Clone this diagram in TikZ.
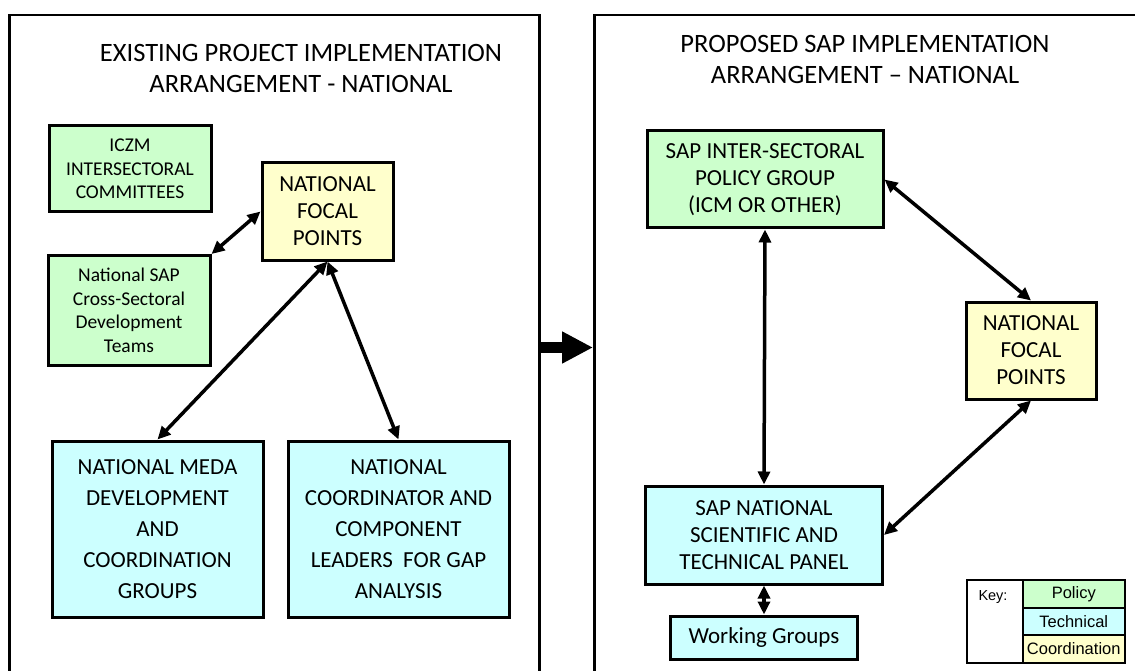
\documentclass[tikz,border=0pt]{standalone}
\usepackage{fontspec}
\setmainfont{Carlito}
\newfontfamily\keyfont{Liberation Sans}
\usetikzlibrary{arrows.meta}
\definecolor{policy}{HTML}{CCFFCC}
\definecolor{techc}{HTML}{CCFFFF}
\definecolor{coordc}{HTML}{FFFFCC}
\begin{document}
\begin{tikzpicture}[x=1pt,y=-1pt,
  panel/.style={draw=black, line width=2.5pt, inner sep=0pt, anchor=north west},
  box/.style={draw=black, line width=3pt, inner sep=0pt, align=center, font=\fontsize{23}{27}\selectfont},
  smallbox/.style={box, font=\fontsize{19.5}{23.5}\selectfont},
  tallbox/.style={box, font=\fontsize{23}{31}\selectfont},
  pol/.style={fill=policy}, tec/.style={fill=techc}, coo/.style={fill=coordc},
  titletext/.style={align=center, inner sep=0pt, font=\fontsize{26.5}{31}\selectfont},
  link/.style={line width=3.5pt, {Triangle[length=13pt,width=12pt]}-{Triangle[length=13pt,width=12pt]}},
  bigarrow/.style={line width=11pt, -{Triangle[length=31pt,width=30pt]}},
  keycell/.style={draw=black, line width=1.5pt, inner sep=0pt, anchor=north west, font=\keyfont\fontsize{16.5}{18}\selectfont}
]
\clip (0,0) rectangle (1135,671);
\fill[white] (0,0) rectangle (1135,671);

% panels
\node[panel, minimum width=530pt, minimum height=700pt] (lp) at (8,14) {};
\node[panel, minimum width=560pt, minimum height=700pt] (rp) at (593,14) {};

% titles
\node[titletext] (tl) at (301,68.5) {EXISTING PROJECT IMPLEMENTATION\\ARRANGEMENT - NATIONAL};
\node[titletext] (tr) at (865,59.5) {PROPOSED SAP IMPLEMENTATION\\ARRANGEMENT -- NATIONAL};

% left boxes
\node[smallbox, pol, minimum width=162pt, minimum height=86pt] (iczm) at (130,169) {ICZM\\INTERSECTORAL\\COMMITTEES};
\node[smallbox, pol, minimum width=162pt, minimum height=110pt] (natsap) at (129,310.5) {National SAP\\Cross-Sectoral\\Development\\Teams};
\node[box, coo, minimum width=131pt, minimum height=97pt] (nfpl) at (327.5,211.5) {NATIONAL\\FOCAL\\POINTS};
\node[tallbox, tec, minimum width=211pt, minimum height=176pt] (meda) at (157.5,529) {NATIONAL MEDA\\DEVELOPMENT\\AND\\COORDINATION\\GROUPS};
\node[tallbox, tec, minimum width=221pt, minimum height=176pt] (coord) at (398.5,529) {NATIONAL\\COORDINATOR AND\\COMPONENT\\LEADERS \ FOR GAP\\ANALYSIS};

% right boxes
\node[box, pol, minimum width=236pt, minimum height=97pt] (inter) at (765,179.5) {SAP INTER-SECTORAL\\POLICY GROUP\\(ICM OR OTHER)};
\node[box, coo, minimum width=130pt, minimum height=97pt] (nfpr) at (1031,350.5) {NATIONAL\\FOCAL\\POINTS};
\node[box, tec, minimum width=237pt, minimum height=98pt] (sci) at (764,535) {SAP NATIONAL\\SCIENTIFIC AND\\TECHNICAL PANEL};
\node[box, tec, minimum width=187pt, minimum height=43pt] (wg) at (764,637.5) {Working Groups};

% connectors
\draw[link] (nfpl.west) -- (natsap.north east);
\draw[link] (nfpl.south) -- (meda.north);
\draw[link] (nfpl.south) -- (coord.north);
\draw[link] (inter.south) -- (sci.north);
\draw[link] (inter.east) -- (nfpr.north);
\draw[link] (nfpr.south) -- (sci.east);
\draw[link] (sci.south) -- (wg.north);

% big arrow between panels
\draw[bigarrow] (lp.east |- 0,347.5) -- (rp.west |- 0,347.5);

% key
\node[keycell, fill=white, minimum width=56pt, minimum height=83pt] (keyl) at (966,579) {};
\node[inner sep=0pt, font=\keyfont\fontsize{14.5}{16}\selectfont] (keyt) at (993,597) {Key:};
\node[keycell, pol, minimum width=102pt, minimum height=28pt] (kp) at (1022,579) {Policy};
\node[keycell, tec, minimum width=102pt, minimum height=27pt] (kt) at (1022,607) {Technical};
\node[keycell, coo, minimum width=102pt, minimum height=28pt] (kc) at (1022,634) {Coordination};
\end{tikzpicture}
\end{document}
